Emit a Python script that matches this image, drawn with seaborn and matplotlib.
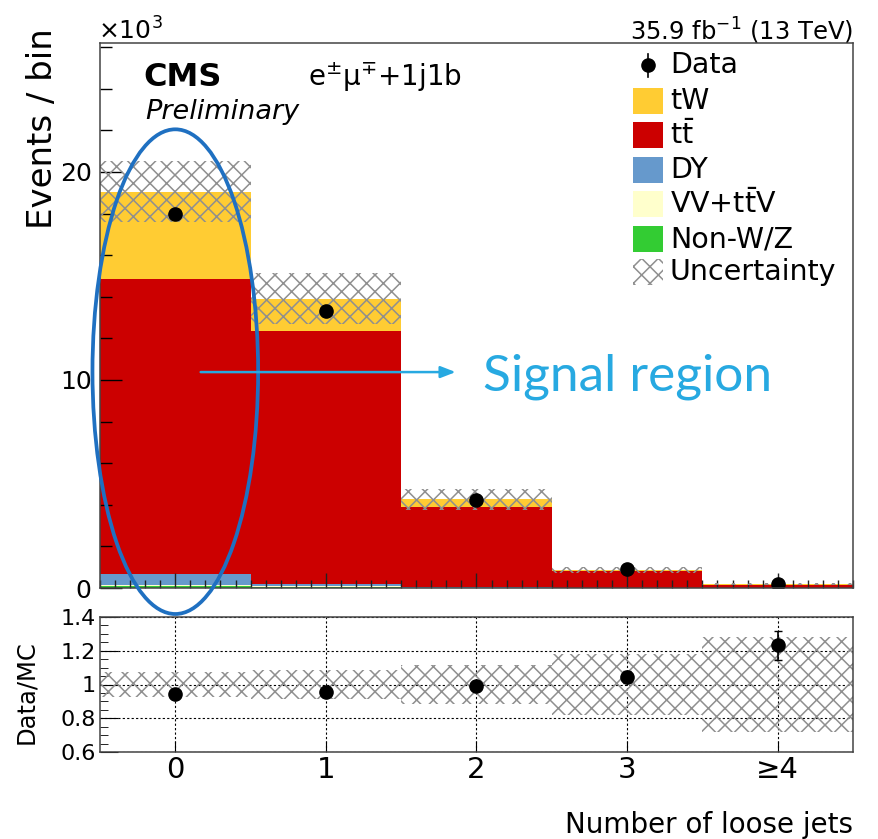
import numpy as np
import pandas as pd
import seaborn as sns
import matplotlib
matplotlib.use("Agg")
import matplotlib.pyplot as plt
from matplotlib.patches import Ellipse, Rectangle
from matplotlib.lines import Line2D
from matplotlib.ticker import MultipleLocator, FuncFormatter

# ---------------- data (events per bin) ----------------
bins = [0, 1, 2, 3, 4]
bin_labels = ["0", "1", "2", "3", "≥4"]
processes = ["tW", "tt", "DY", "VV", "NonWZ"]          # top of stack first
proc_labels = ["tW", r"t$\mathregular{\bar{t}}$", "DY", r"VV+t$\mathregular{\bar{t}}$V", "Non-W/Z"]
proc_colors = ["#ffcc33", "#cc0000", "#6699cc", "#ffffcc", "#33cc33"]

tw_evt = [4190, 1540, 370, 50, 10]
tt_evt = [14210, 12150, 3860, 800, 158]
dy_evt = [500, 120, 20, 6, 1]
vv_evt = [50, 40, 10, 3, 1]
nonwz_evt = [100, 50, 10, 1, 0.5]

data_evt = [17980, 13320, 4230, 900, 210]
data_err = [134, 115, 65, 30, 14.5]
mc_unc = [1460, 1230, 500, 155, 48]

# ---------------- derived ----------------
proc_vals = {"tW": tw_evt, "tt": tt_evt, "DY": dy_evt, "VV": vv_evt, "NonWZ": nonwz_evt}
rows = []
for p in processes:
    for b, v in zip(bins, proc_vals[p]):
        rows.append({"njets": b, "process": p, "events": v})
df = pd.DataFrame(rows)

total = np.sum([np.array(proc_vals[p]) for p in processes], axis=0)
data_arr = np.array(data_evt)
ratio = data_arr / total
ratio_err = np.array(data_err) / total
rel_unc = np.array(mc_unc) / total

plt.rcParams["font.family"] = ["DejaVu Sans"]
plt.rcParams["mathtext.fontset"] = "dejavusans"
plt.rcParams["hatch.linewidth"] = 1.1
plt.rcParams["hatch.color"] = "#8f8f8f"
HATCH = "xx"
HCOL = "#8f8f8f"

W, H = 879, 839
fig = plt.figure(figsize=(W / 100, H / 100), dpi=100)
ax = fig.add_axes([100 / W, 1 - 588 / H, 753 / W, 545 / H])
rax = fig.add_axes([100 / W, 1 - 752 / H, 753 / W, 135 / H])

# ---------------- main stacked histogram ----------------
sns.histplot(data=df, x="njets", weights="events", hue="process",
             hue_order=processes, palette=dict(zip(processes, proc_colors)),
             multiple="stack", discrete=True, shrink=1.0, alpha=1.0,
             linewidth=0, edgecolor="none", legend=False, ax=ax, zorder=1)

ax.bar(bins, 2 * np.array(mc_unc), bottom=total - np.array(mc_unc), width=1.0,
       fill=False, hatch=HATCH, edgecolor=HCOL, linewidth=0, zorder=2)
ax.errorbar(bins, data_evt, yerr=data_err, fmt="o", color="black",
            markersize=9.5, elinewidth=1.2, capsize=0, zorder=4)

ax.set_xlim(-0.5, 4.5)
ax.set_ylim(0, 26200)
ax.set_xlabel("")
ax.set_ylabel("")
ax.xaxis.set_major_locator(MultipleLocator(1))
ax.xaxis.set_minor_locator(MultipleLocator(0.1))
ax.yaxis.set_major_locator(MultipleLocator(10000))
ax.yaxis.set_minor_locator(MultipleLocator(2000))
ax.yaxis.set_major_formatter(FuncFormatter(lambda v, _: f"{v/1000:g}"))
ax.tick_params(axis="x", which="both", direction="in", labelbottom=False, color="#222222")
ax.tick_params(axis="x", which="major", length=11, width=1)
ax.tick_params(axis="x", which="minor", length=6, width=1)
ax.tick_params(axis="y", which="major", direction="in", length=16, width=1, labelsize=18, pad=6)
ax.tick_params(axis="y", which="minor", direction="in", length=8.5, width=1)
for s in ax.spines.values():
    s.set_color("#444444")
    s.set_linewidth(1.1)
    s.set_zorder(5)

# legend (drawn manually in axes fraction)
def fx(px):
    return (px - 100) / 753
def fy(py):
    return (588 - py) / 545

row_y = [65, 101, 135, 170, 204, 239, 272]
ax.add_line(Line2D([fx(648)], [fy(row_y[0])], marker="o", color="black",
                   markersize=9.5, transform=ax.transAxes, zorder=6))
ax.add_line(Line2D([fx(648), fx(648)], [fy(row_y[0] - 11), fy(row_y[0] + 12)],
                   color="black", lw=1.2, transform=ax.transAxes, zorder=6))
ax.text(fx(670), fy(row_y[0]), "Data", transform=ax.transAxes, fontsize=20.5,
        va="center", ha="left")
for i, (lab, col) in enumerate(zip(proc_labels, proc_colors)):
    yy = row_y[i + 1]
    ax.add_patch(Rectangle((fx(633), fy(yy + 13)), fx(663) - fx(633), fy(yy - 13) - fy(yy + 13),
                           transform=ax.transAxes, facecolor=col, edgecolor="none", zorder=6))
    ax.text(fx(670), fy(yy), lab, transform=ax.transAxes, fontsize=20.5, va="center", ha="left")
yy = row_y[6]
ax.add_patch(Rectangle((fx(633), fy(yy + 13)), fx(663) - fx(633), fy(yy - 13) - fy(yy + 13),
                       transform=ax.transAxes, fill=False, hatch=HATCH, edgecolor=HCOL,
                       linewidth=0, zorder=6))
ax.text(fx(670), fy(yy), "Uncertainty", transform=ax.transAxes, fontsize=20.5,
        va="center", ha="left")

# labels and captions
ax.text(fx(143), fy(78), "CMS", transform=ax.transAxes, fontsize=23, fontweight="bold",
        va="center", ha="left")
ax.text(fx(145), fy(112), "Preliminary", transform=ax.transAxes, fontsize=19.5,
        fontstyle="italic", va="center", ha="left")
ax.text(fx(308), fy(77), r"e$^{\pm}$μ$^{\mp}$+1j1b", transform=ax.transAxes,
        fontsize=20, va="center", ha="left")
fig.text(853 / W, 1 - 40 / H, r"35.9 fb$^{-1}$ (13 TeV)", fontsize=17.5, ha="right", va="baseline")
fig.text(98 / W, 1 - 40 / H, r"×10$^{3}$", fontsize=18, ha="left", va="baseline")
fig.text(43 / W, 1 - 28 / H, "Events / bin", fontsize=24.5, rotation=90, ha="center", va="top")

# annotation: ellipse, arrow, text
ax.add_patch(Ellipse((0.0, 10.4e3), 1.1, 23.3e3, fill=False, edgecolor="#1f70c1",
                     linewidth=2.7, clip_on=False, zorder=7))
ax.annotate("", xy=(1.88, 10.38e3), xytext=(0.15, 10.38e3),
            arrowprops=dict(arrowstyle="-|>,head_length=0.9,head_width=0.35",
                            color="#27a9e1", lw=1.8), zorder=7)
ax.text(2.04, 10.15e3, "Signal region", fontsize=37, color="#27a9e1",
        family=["Lato", "DejaVu Sans"], fontweight="normal", va="center", ha="left", zorder=7)

# ---------------- ratio panel ----------------
rax.bar(bins, 2 * rel_unc, bottom=1 - rel_unc, width=1.0, fill=False, hatch=HATCH,
        edgecolor=HCOL, linewidth=0, zorder=2)
rax.errorbar(bins, ratio, yerr=ratio_err, fmt="o", color="black", markersize=9.5,
             elinewidth=1.2, capsize=3, capthick=1.0, zorder=4)
rax.set_xlim(-0.5, 4.5)
rax.set_ylim(0.6, 1.4)
rax.set_xticks(bins)
rax.set_xticklabels(bin_labels)
rax.yaxis.set_major_locator(MultipleLocator(0.2))
rax.yaxis.set_minor_locator(MultipleLocator(0.05))
rax.yaxis.set_major_formatter(FuncFormatter(lambda v, _: f"{v:g}"))
rax.tick_params(axis="x", which="major", direction="in", length=8, labelsize=21, pad=3)
rax.tick_params(axis="y", which="major", direction="in", length=13, labelsize=16, pad=3)
rax.tick_params(axis="y", which="minor", direction="in", length=6)
rax.grid(True, which="major", color="black", linestyle=(0, (2, 2)), linewidth=0.8, zorder=1)
rax.set_axisbelow(True)
for s in rax.spines.values():
    s.set_color("#444444")
    s.set_linewidth(1.1)
rax.set_ylabel("")
fig.text(26 / W, 1 - 692 / H, "Data/MC", fontsize=17.5, rotation=90, ha="center", va="center")
fig.text(853 / W, 1 - 833 / H, "Number of loose jets", fontsize=20, ha="right", va="baseline")

fig.savefig("out.png", dpi=100)
